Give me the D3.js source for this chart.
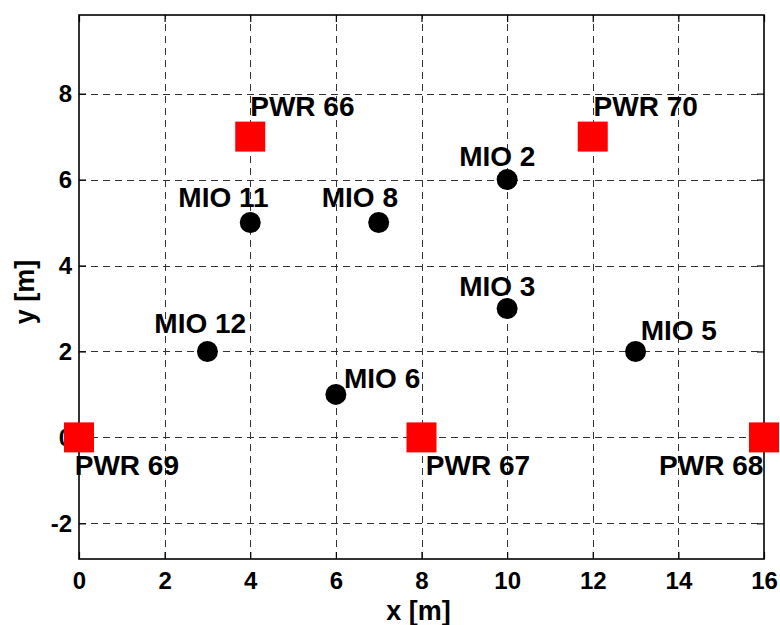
<!DOCTYPE html>
<html><head><meta charset="utf-8">
<script src="https://cdn.jsdelivr.net/npm/d3@7"></script>
<style>body{margin:0;background:#fff}svg{display:block}text{font-family:"Liberation Sans",Arial,Helvetica,sans-serif;font-weight:bold}</style>
</head><body><svg id="c" width="780" height="625"></svg>
<script>
// Data
const mioNames = ["MIO 2","MIO 3","MIO 5","MIO 6","MIO 8","MIO 11","MIO 12"];
const mioX = [10,10,13,6,7,4,3];
const mioY = [6,3,2,1,5,5,2];
const mioLabelDx = [-1.12,-1.12,0.12,0.19,-1.33,-1.68,-1.24];
const mioLabelDy = [0.31,0.28,0.26,0.14,0.37,0.37,0.42];
const pwrNames = ["PWR 66","PWR 67","PWR 68","PWR 69","PWR 70"];
const pwrX = [4,8,16,0,12];
const pwrY = [7,0,0,0,7];
const pwrLabelDx = [0,0.1,-2.45,-0.1,0.02];
const pwrLabelDy = [0.49,-0.88,-0.88,-0.88,0.49];
const xTicks = [0,2,4,6,8,10,12,14,16];
const yTicks = [-2,0,2,4,6,8];
const xLimits = [0,16];
const yLimits = [-2.83,9.83];

const svg = d3.select("#c");
const L=79,R=764,T=15,B=559;
const x = d3.scaleLinear().domain(xLimits).range([L,R]);
const y = d3.scaleLinear().domain(yLimits).range([B,T]);
const fmt = d => String(d);

svg.append("rect").attr("width",780).attr("height",625).attr("fill","#fff");

// grid
const g = svg.append("g").attr("stroke","#333").attr("stroke-width",1).attr("stroke-dasharray","7,5").attr("shape-rendering","crispEdges");
g.selectAll("line.vx").data(xTicks.filter(d=>d>xLimits[0]&&d<xLimits[1])).join("line")
  .attr("x1",d=>Math.round(x(d))+0.5).attr("x2",d=>Math.round(x(d))+0.5).attr("y1",B).attr("y2",T);
g.selectAll("line.hy").data(yTicks).join("line")
  .attr("y1",d=>Math.round(y(d))+0.5).attr("y2",d=>Math.round(y(d))+0.5).attr("x1",L).attr("x2",R);

// axes (ticks inside)
const tick=7;
const axB = svg.append("g").attr("transform",`translate(0,${B})`).call(d3.axisBottom(x).tickValues(xTicks).tickSizeInner(-tick).tickSizeOuter(0).tickPadding(13).tickFormat(fmt));
const axT = svg.append("g").attr("transform",`translate(0,${T})`).call(d3.axisTop(x).tickValues(xTicks).tickSizeInner(-tick).tickSizeOuter(0).tickFormat(""));
const axL = svg.append("g").attr("transform",`translate(${L},0)`).call(d3.axisLeft(y).tickValues(yTicks).tickSizeInner(-tick).tickSizeOuter(0).tickPadding(7).tickFormat(fmt));
const axR = svg.append("g").attr("transform",`translate(${R},0)`).call(d3.axisRight(y).tickValues(yTicks).tickSizeInner(-tick).tickSizeOuter(0).tickFormat(""));
[axB,axT,axL,axR].forEach(a=>{a.select(".domain").remove();a.selectAll("line").attr("stroke","#000").attr("stroke-width",1.2);});
[axB,axL].forEach(a=>a.selectAll("text").attr("font-size",24).attr("fill","#000").attr("font-family","Liberation Sans, Arial, sans-serif").attr("font-weight","bold"));
axB.selectAll("text").attr("dy","0.71em");

// frame
svg.append("rect").attr("x",L).attr("y",T).attr("width",R-L).attr("height",B-T).attr("fill","none").attr("stroke","#000").attr("stroke-width",1.6);

// axis labels
svg.append("text").attr("x",(L+R)/2-3).attr("y",620).attr("text-anchor","middle").attr("font-size",27).text("x [m]");
svg.append("text").attr("transform",`translate(34,${(T+B)/2+5}) rotate(-90)`).attr("text-anchor","middle").attr("font-size",27).text("y [m]");

// MIO circles
svg.selectAll("circle.mio").data(mioNames).join("circle").attr("class","mio")
  .attr("cx",(d,i)=>x(mioX[i])).attr("cy",(d,i)=>y(mioY[i])).attr("r",10.5).attr("fill","#000");
// PWR squares
const s=30;
svg.selectAll("rect.pwr").data(pwrNames).join("rect").attr("class","pwr")
  .attr("x",(d,i)=>x(pwrX[i])-s/2).attr("y",(d,i)=>y(pwrY[i])-s/2).attr("width",s).attr("height",s).attr("fill","#ff0000");

// labels
svg.selectAll("text.ml").data(mioNames).join("text").attr("class","ml")
  .attr("x",(d,i)=>x(mioX[i]+mioLabelDx[i])).attr("y",(d,i)=>y(mioY[i]+mioLabelDy[i]))
  .attr("font-size",28).attr("fill","#000").text(d=>d);
svg.selectAll("text.pl").data(pwrNames).join("text").attr("class","pl")
  .attr("x",(d,i)=>x(pwrX[i]+pwrLabelDx[i])).attr("y",(d,i)=>y(pwrY[i]+pwrLabelDy[i]))
  .attr("font-size",28).attr("fill","#000").text(d=>d);
</script></body></html>
